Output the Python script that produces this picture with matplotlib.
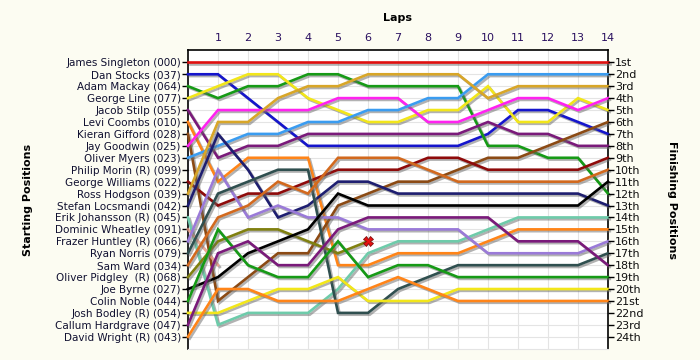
import matplotlib
matplotlib.use('Agg')
import matplotlib.pyplot as plt
import matplotlib.patheffects as pe

# drivers in starting order (grid position 1..24)
drivers = ['James Singleton (000)', 'Dan Stocks (037)', 'Adam Mackay (064)',
           'George Line (077)', 'Jacob Stilp (055)', 'Levi Coombs (010)',
           'Kieran Gifford (028)', 'Jay Goodwin (025)', 'Oliver Myers (023)',
           'Philip Morin (R) (099)', 'George Williams (022)', 'Ross Hodgson (039)',
           'Stefan Locsmandi (042)', 'Erik Johansson (R) (045)', 'Dominic Wheatley (091)',
           'Frazer Huntley (R) (066)', 'Ryan Norris (079)', 'Sam Ward (034)',
           'Oliver Pidgley  (R) (068)', 'Joe Byrne (027)', 'Colin Noble (044)',
           'Josh Bodley (R) (054)', 'Callum Hardgrave (047)', 'David Wright (R) (043)']
ordinals = ['1st', '2nd', '3rd'] + ['%dth' % i for i in range(4, 21)] + ['21st', '22nd', '23rd', '24th']
laps = list(range(15))

# position at the end of each lap (lap 0 = grid)
singleton = [1, 1, 1, 1, 1, 1, 1, 1, 1, 1, 1, 1, 1, 1, 1]
stocks = [2, 2, 4, 6, 8, 8, 8, 8, 8, 8, 7, 5, 5, 6, 7]
mackay = [3, 4, 3, 3, 2, 2, 3, 3, 3, 3, 8, 8, 9, 9, 12]
line = [4, 3, 2, 2, 4, 5, 6, 6, 5, 5, 3, 6, 6, 4, 5]
stilp = [5, 9, 8, 8, 7, 7, 7, 7, 7, 7, 6, 7, 7, 8, 8]
coombs = [6, 11, 9, 9, 9, 18, 18, 17, 17, 17, 16, 15, 15, 15, 15]
gifford = [7, 21, 19, 17, 17, 13, 12, 11, 11, 10, 9, 9, 8, 7, 6]
goodwin = [8, 5, 5, 5, 5, 4, 4, 4, 6, 6, 5, 4, 4, 5, 4]
myers = [9, 8, 7, 7, 6, 6, 5, 5, 4, 4, 2, 2, 2, 2, 2]
morin = []
williams = [11, 13, 12, 12, 11, 10, 10, 10, 9, 9, 10, 10, 10, 10, 9]
hodgson = [12, 6, 6, 4, 3, 3, 2, 2, 2, 2, 4, 3, 3, 3, 3]
locsmandi = [13, 7, 10, 14, 13, 11, 11, 12, 12, 12, 12, 12, 12, 12, 13]
johansson = [14, 23, 22, 22, 22, 20, 17, 16, 16, 16, 15, 14, 14, 14, 14]
wheatley = [15, 18]
huntley = [16, 10, 14, 13, 14, 14, 15, 15, 15, 15, 17, 17, 17, 17, 16]
norris = [17, 12, 11, 10, 10, 22, 22, 20, 19, 18, 18, 18, 18, 18, 17]
ward = [18, 14, 13, 11, 12, 9, 9, 9, 10, 11, 11, 11, 11, 11, 10]
pidgley = [19, 16, 15, 15, 16, 17, 16]
byrne = [20, 19, 17, 16, 15, 12, 13, 13, 13, 13, 13, 13, 13, 13, 11]
noble = [21, 15, 18, 19, 19, 16, 19, 18, 18, 19, 19, 19, 19, 19, 19]
bodley = [22, 22, 21, 20, 20, 19, 21, 21, 21, 20, 20, 20, 20, 20, 20]
hardgrave = [23, 17, 16, 18, 18, 15, 14, 14, 14, 14, 14, 16, 16, 16, 18]
wright = [24, 20, 20, 21, 21, 21, 20, 19, 20, 21, 21, 21, 21, 21, 21]

series = [singleton, stocks, mackay, line, stilp, coombs, gifford, goodwin, myers,
          morin, williams, hodgson, locsmandi, johansson, wheatley, huntley, norris,
          ward, pidgley, byrne, noble, bodley, hardgrave, wright]
colors = ['#E01010', '#1515CC', '#169A16', '#F2E61A', '#7A1A7A', '#FF8418',
          '#8B4A14', '#FF22F0', '#3A9CF0', '#8B0000', '#8E0A0A', '#D8A628',
          '#1E1E70', '#6ECBAA', '#FFA58A', '#9A7AD8', '#2F4F4F', '#D2691E',
          '#808010', '#000000', '#169A16', '#F2E61A', '#7A1A7A', '#FF8418']
retired_x = [pidgley]

bg = '#FCFCF2'
fig = plt.figure(figsize=(7, 3.6), dpi=100, facecolor=bg)
ax = fig.add_axes([188 / 700, 1 - 348.7 / 360, 420 / 700, 298.3 / 360])
ax.set_facecolor('white')

shadow = [pe.SimpleLineShadow(offset=(1.3, -1.3), shadow_color='#666666', alpha=0.5), pe.Normal()]
for pos, col in zip(series, colors):
    if not pos:
        continue
    alpha = 0.75 if len(pos) < 3 else 1
    ax.plot(laps[:len(pos)], pos, color=col, lw=1.9, alpha=alpha,
            path_effects=shadow, solid_joinstyle='miter', clip_on=False, zorder=3)
for pos in retired_x:
    ax.plot(len(pos) - 1, pos[-1], marker='X', ms=7, color='#E81010',
            mec='#801010', mew=0.6, zorder=5)

ax.set_xlim(0, 14)
ax.set_ylim(25, 0)
ax.xaxis.tick_top()
ax.set_xticks(range(1, 15))
ax.tick_params(axis='x', length=0, pad=5, labelsize=8, labelcolor='#2A1060')
ax.set_yticks(range(1, 25))
ax.set_yticklabels(drivers)
ax.tick_params(axis='y', length=4, width=1, pad=1, labelsize=7.5, labelcolor='#101030')
ax.grid(True, color='#E4E4E4', lw=0.8, zorder=0)
ax.spines['bottom'].set_color('#E4E4E4')
for s in ['top', 'left', 'right']:
    ax.spines[s].set_linewidth(1.2)

ax2 = ax.twinx()
ax2.set_ylim(25, 0)
ax2.set_yticks(range(1, 25))
ax2.set_yticklabels(ordinals)
ax2.tick_params(axis='y', length=4, width=1, pad=1, labelsize=8, labelcolor='#101010')
for s in ['top', 'left', 'right', 'bottom']:
    ax2.spines[s].set_visible(False)

fig.text(397 / 700, 1 - 18 / 360, 'Laps', ha='center', va='center', fontsize=8, fontweight='bold')
fig.text(28 / 700, 1 - 200 / 360, 'Starting Positions', ha='center', va='center',
         rotation=90, fontsize=8, fontweight='bold')
fig.text(672 / 700, 1 - 200 / 360, 'Finishing Positions', ha='center', va='center',
         rotation=-90, fontsize=8, fontweight='bold')

fig.savefig('out.png', dpi=100, facecolor=bg)
